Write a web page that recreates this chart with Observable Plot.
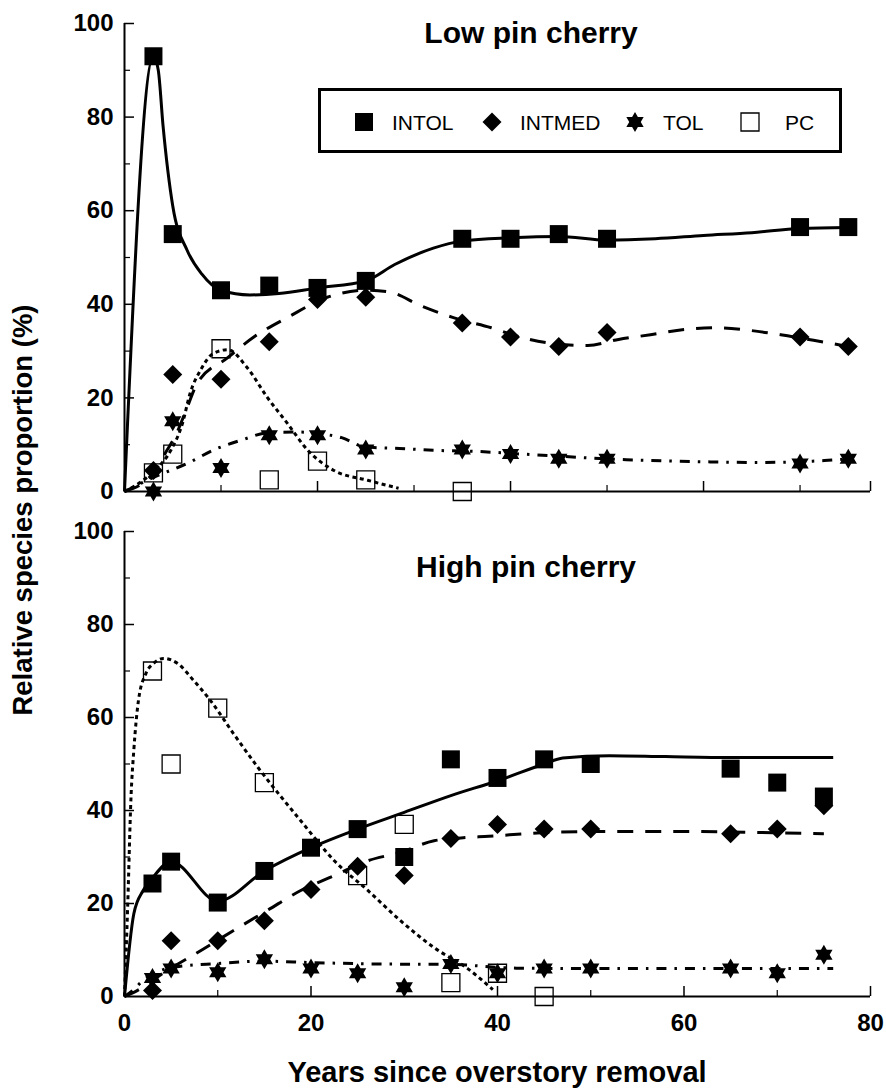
<!DOCTYPE html>
<html>
<head>
<meta charset="utf-8">
<script src="https://cdn.jsdelivr.net/npm/d3@7"></script>
<script src="https://cdn.jsdelivr.net/npm/@observablehq/plot@0.6"></script>
<style>
  html, body { margin: 0; padding: 0; background: #fff; }
  #wrap { position: relative; width: 886px; height: 1089px; overflow: hidden; background: #fff; }
  #wrap svg { position: absolute; left: 0; }
</style>
</head>
<body>
<div id="wrap"></div>
<script>
// ---------------- DATA ----------------
const panelTitles = ["Low pin cherry", "High pin cherry"];
const seriesNames = ["INTOL", "INTMED", "TOL", "PC"];
const xTitle = "Years since overstory removal";
const yTitle = "Relative species proportion (%)";
const yTicks = [0, 20, 40, 60, 80, 100];
const yMinorTicks = [10, 30, 50, 70, 90];
const xTicksBottom = [0, 20, 40, 60, 80];
const xMinorBottom = [10, 30, 50, 70];

// Low pin cherry – observed points
const lowYears   = [3, 5, 10, 15, 20, 25, 35, 40, 45, 50, 70, 75];
const lowINTOL   = [93, 55, 43, 44, 43.5, 45, 54, 54, 55, 54, 56.5, 56.5];
const lowINTMED  = [4.5, 25, 24, 32, 41, 41.5, 36, 33, 31, 34, 33, 31];
const lowTOL     = [0, 15, 5, 12, 12, 9, 9, 8, 7, 7, 6, 7];
const lowPCYears = [3, 5, 10, 15, 20, 25, 35];
const lowPC      = [4, 8, 30.5, 2.5, 6.5, 2.5, 0];

// Low pin cherry – fitted curves
const lowFitINTOLx  = [0, 3, 3.5, 4, 5, 6.5, 8, 10, 13, 16, 20, 25, 28, 32, 35, 40, 45, 50, 55, 60, 65, 70, 75];
const lowFitINTOLy  = [0, 93, 90, 78, 61, 51.5, 46.5, 43, 42, 42.3, 43.5, 45, 48.5, 52, 53.5, 54.2, 54.5, 53.7, 54, 54.7, 55.3, 56.2, 56.4];
const lowFitINTMEDx = [0, 3, 4.4, 5.3, 6.5, 7.5, 10.7, 13.4, 16.9, 21, 25, 27.3, 30.7, 34, 38, 41, 44.5, 48, 51.2, 54.5, 58, 61.4, 64.9, 68, 71.4, 75];
const lowFitINTMEDy = [0, 4, 8.8, 12, 18, 23, 28.6, 33, 37.2, 41.5, 43, 42.7, 39.7, 37.2, 35, 33, 31.6, 31.2, 32.5, 33.5, 34.6, 35, 34.4, 33.5, 32.3, 31];
const lowFitTOLx    = [0, 3, 6.5, 9.6, 12, 15, 18, 20, 22.5, 25, 28.5, 32, 36, 42, 52, 59, 65.5, 72.5, 75];
const lowFitTOLy    = [0, 3, 6, 9.2, 10.9, 12.6, 12.7, 12.4, 11.5, 9.5, 9.2, 8.8, 8.6, 7.9, 6.8, 6.4, 6.2, 6.6, 7];
const lowFitPCx     = [0, 2, 3.4, 4.8, 6, 6.8, 7.9, 9.2, 10.7, 12.7, 14.8, 16.9, 19, 21.7, 25.2, 28.4];
const lowFitPCy     = [0, 2.5, 5, 8.8, 14.5, 21, 26, 29.5, 30.3, 26.5, 20.1, 14.5, 8.8, 4.5, 2.4, 0.7];

// High pin cherry – observed points
const highYears   = [3, 5, 10, 15, 20, 25, 30, 35, 40, 45, 50, 65, 70, 75];
const highINTOL   = [24.3, 29, 20.2, 27, 32, 36, 30, 51, 47, 51, 50, 49, 46, 43];
const highINTMED  = [1.3, 12, 12, 16.3, 23, 28, 26, 34, 37, 36, 36, 35, 36, 41];
const highTOL     = [4, 6, 5.2, 8, 6, 5, 2, 7, 5, 6, 6, 6, 5, 9];
const highPCYears = [3, 5, 10, 15, 25, 30, 35, 40, 45];
const highPC      = [70, 50, 62, 46, 26, 37, 3, 5, 0];

// High pin cherry – fitted curves
const highFitINTOLx  = [0, 1, 2, 3, 5, 10, 15, 20, 25, 30, 35, 40, 45, 47, 52, 58, 65, 76];
const highFitINTOLy  = [0, 17.8, 22.8, 25.5, 29, 20.5, 27, 32, 36, 39.6, 43.2, 46.4, 50, 51.3, 51.8, 51.6, 51.4, 51.4];
const highFitINTMEDx = [0, 1, 4.6, 8.2, 11.7, 15.3, 18.9, 22.5, 26.1, 29.6, 33.2, 36.8, 38.6, 45.8, 53, 60, 67.2, 75];
const highFitINTMEDy = [0, 0.9, 5.6, 9.9, 14.2, 18.5, 22.8, 26, 29.2, 31, 33.5, 34.2, 34.4, 35.3, 35.5, 35.5, 35.3, 35];
const highFitTOLx    = [0, 1, 2, 3, 5, 10, 15, 20, 27, 35, 42, 53, 65, 76];
const highFitTOLy    = [0, 1.5, 3.5, 4.8, 6.2, 7.1, 7.6, 7.3, 7, 6.9, 6.1, 6, 6, 6];
const highFitPCx     = [0, 0.35, 0.7, 1, 1.5, 2.3, 3.1, 4.2, 5.7, 7.4, 9.2, 11.7, 14.3, 18.9, 22.5, 26.1, 29.6, 33.2, 36.8, 39.5];
const highFitPCy     = [0, 20, 43, 53, 63.7, 69.5, 71.6, 72.7, 71.6, 68, 63.7, 56.5, 49.3, 37.8, 29.2, 22.8, 16.3, 10.5, 6, 1.5];

// ---------------- SYMBOLS ----------------
const rad = (size) => Math.sqrt(size / Math.PI);
const symSquare = { draw(ctx, size) { const r = rad(size); ctx.moveTo(-r, -r); ctx.lineTo(r, -r); ctx.lineTo(r, r); ctx.lineTo(-r, r); ctx.closePath(); } };
const symDiamond = { draw(ctx, size) { const r = rad(size); ctx.moveTo(0, -r); ctx.lineTo(r, 0); ctx.lineTo(0, r); ctx.lineTo(-r, 0); ctx.closePath(); } };
const symStar6 = { draw(ctx, size) {
  const R = rad(size), ri = R / Math.sqrt(3);
  for (let i = 0; i < 12; i++) {
    const a = i * Math.PI / 6 - Math.PI / 2, rr = i % 2 === 0 ? R : ri;
    const px = rr * Math.cos(a), py = rr * Math.sin(a);
    if (i === 0) ctx.moveTo(px, py); else ctx.lineTo(px, py);
  }
  ctx.closePath();
} };

const FONT = '"Liberation Sans", Arial, Helvetica, sans-serif';
const styles = {
  INTOL:  { sym: symSquare,  r: 9,   fill: "black", stroke: "none",  dash: null },
  INTMED: { sym: symDiamond, r: 9.5, fill: "black", stroke: "none",  dash: "16,12" },
  TOL:    { sym: symStar6,   r: 10,  fill: "black", stroke: "none",  dash: "10,8,2.5,8" },
  PC:     { sym: symSquare,  r: 9,   fill: "none",  stroke: "black", dash: "4,3.5" }
};

const zip = (xs, ys) => xs.map((x, i) => ({ x, y: ys[i] }));

function makePanel(cfg) {
  const marks = [];
  marks.push(Plot.ruleY([0], { stroke: "black", strokeWidth: 2 }));
  marks.push(Plot.ruleX([0], { stroke: "black", strokeWidth: 2 }));
  marks.push(Plot.axisY({ ticks: yTicks.filter(d => d > 0), tickSize: -10, strokeWidth: 1.5, fill: "none", label: null }));
  marks.push(Plot.axisY({ ticks: yMinorTicks, tickSize: -6, strokeWidth: 1.2, fill: "none", label: null }));
  marks.push(Plot.axisY({ ticks: yTicks, tickSize: 0, tickPadding: 11, fontSize: 24, fontWeight: "bold", label: null }));
  marks.push(Plot.axisX({ ticks: cfg.xMajor, tickSize: -10, strokeWidth: 1.5, fill: "none", label: null }));
  marks.push(Plot.axisX({ ticks: cfg.xMinor, tickSize: -6, strokeWidth: 1.2, fill: "none", label: null }));
  if (cfg.xLabels) {
    marks.push(Plot.axisX({ ticks: cfg.xLabels, tickSize: 0, tickPadding: 17, fontSize: 24, fontWeight: "bold", label: null }));
  }
  for (const s of cfg.series) {
    const st = styles[s.name];
    marks.push(Plot.line(zip(s.fitX, s.fitY), {
      x: "x", y: "y", curve: "monotone-x", stroke: "black", strokeWidth: 3,
      strokeDasharray: st.dash, strokeLinecap: "butt"
    }));
  }
  for (const s of cfg.series) {
    const st = styles[s.name];
    marks.push(Plot.dot(zip(s.px, s.py), {
      x: "x", y: "y", symbol: st.sym, r: st.r, fill: st.fill, stroke: st.stroke, strokeWidth: 1.3
    }));
  }
  return Plot.plot({
    width: 886, height: cfg.height,
    marginLeft: 124, marginRight: 16, marginTop: cfg.marginTop, marginBottom: cfg.marginBottom,
    x: { domain: cfg.xDomain },
    y: { domain: [0, 100] },
    style: { fontFamily: FONT, background: "none", overflow: "visible", color: "black" },
    marks
  });
}

const topPlot = makePanel({
  height: 505, marginTop: 23, marginBottom: 14,
  xDomain: [0, 77.3], xMajor: [20, 40, 60, 77.3], xMinor: [10, 30, 50, 70], xLabels: null,
  series: [
    { name: "INTOL",  px: lowYears,   py: lowINTOL,  fitX: lowFitINTOLx,  fitY: lowFitINTOLy },
    { name: "INTMED", px: lowYears,   py: lowINTMED, fitX: lowFitINTMEDx, fitY: lowFitINTMEDy },
    { name: "TOL",    px: lowYears,   py: lowTOL,    fitX: lowFitTOLx,    fitY: lowFitTOLy },
    { name: "PC",     px: lowPCYears, py: lowPC,     fitX: lowFitPCx,     fitY: lowFitPCy }
  ]
});
topPlot.style.top = "0px";

const bottomPlot = makePanel({
  height: 584, marginTop: 26, marginBottom: 93,
  xDomain: [0, 80], xMajor: [20, 40, 60, 80], xMinor: xMinorBottom, xLabels: xTicksBottom,
  series: [
    { name: "INTOL",  px: highYears,   py: highINTOL,  fitX: highFitINTOLx,  fitY: highFitINTOLy },
    { name: "INTMED", px: highYears,   py: highINTMED, fitX: highFitINTMEDx, fitY: highFitINTMEDy },
    { name: "TOL",    px: highYears,   py: highTOL,    fitX: highFitTOLx,    fitY: highFitTOLy },
    { name: "PC",     px: highPCYears, py: highPC,     fitX: highFitPCx,     fitY: highFitPCy }
  ]
});
bottomPlot.style.top = "505px";

const wrapEl = document.getElementById("wrap");
wrapEl.appendChild(topPlot);
wrapEl.appendChild(bottomPlot);

// ---------------- OVERLAY: titles, axis titles, legend ----------------
const ov = d3.create("svg")
  .attr("width", 886).attr("height", 1089)
  .style("top", "0px").style("pointer-events", "none")
  .attr("font-family", FONT);

ov.append("text").attr("x", 531).attr("y", 43).attr("text-anchor", "middle")
  .attr("font-size", 30).attr("font-weight", "bold").text(panelTitles[0]);
ov.append("text").attr("x", 526).attr("y", 577).attr("text-anchor", "middle")
  .attr("font-size", 30).attr("font-weight", "bold").text(panelTitles[1]);
ov.append("text").attr("transform", "translate(32,510) rotate(-90)").attr("text-anchor", "middle")
  .attr("font-size", 27.5).attr("font-weight", "bold").text(yTitle);
ov.append("text").attr("x", 497).attr("y", 1082).attr("text-anchor", "middle")
  .attr("font-size", 29).attr("font-weight", "bold").text(xTitle);

const lg = ov.append("g");
lg.append("rect").attr("x", 319.5).attr("y", 89.5).attr("width", 521).attr("height", 62)
  .attr("fill", "none").attr("stroke", "black").attr("stroke-width", 3);
const legendSymX = [364, 492, 635, 750];
const legendTextX = [392, 520, 663, 785];
seriesNames.forEach((name, i) => {
  const st = styles[name];
  const d = d3.symbol(st.sym, Math.PI * st.r * st.r)();
  lg.append("path").attr("d", d).attr("transform", `translate(${legendSymX[i]},122)`)
    .attr("fill", st.fill).attr("stroke", st.stroke).attr("stroke-width", 1.3);
  lg.append("text").attr("x", legendTextX[i]).attr("y", 130).attr("font-size", 21).text(name);
});

wrapEl.appendChild(ov.node());
</script>
</body>
</html>
